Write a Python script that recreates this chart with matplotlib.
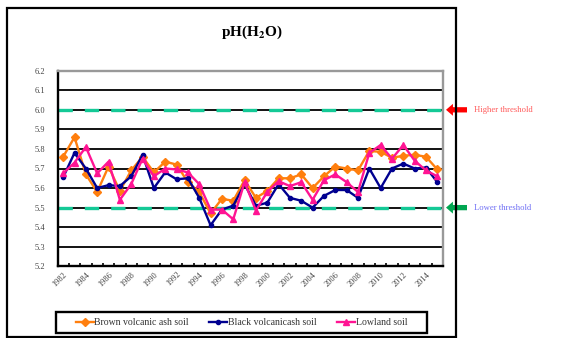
import matplotlib
matplotlib.use("Agg")
import matplotlib.pyplot as plt
import matplotlib.transforms as mtransforms
from matplotlib.patches import Rectangle
from matplotlib.ticker import FixedLocator

plt.rcParams['font.family'] = ['Liberation Serif', 'DejaVu Serif']
plt.rcParams['mathtext.fontset'] = 'stix'

years = list(range(1982, 2016))
brown = [5.76, 5.86, 5.67, 5.58, 5.71, 5.585, 5.69, 5.76, 5.68, 5.735, 5.72, 5.63,
         5.58, 5.47, 5.545, 5.535, 5.64, 5.55, 5.585, 5.65, 5.65, 5.67, 5.60, 5.66,
         5.71, 5.70, 5.69, 5.79, 5.785, 5.755, 5.765, 5.77, 5.76, 5.695]
black = [5.655, 5.78, 5.70, 5.60, 5.615, 5.61, 5.66, 5.77, 5.60, 5.68, 5.645, 5.65,
         5.55, 5.41, 5.49, 5.51, 5.62, 5.51, 5.525, 5.62, 5.55, 5.535, 5.50, 5.56,
         5.59, 5.59, 5.55, 5.70, 5.60, 5.70, 5.725, 5.70, 5.705, 5.63]
lowland = [5.675, 5.73, 5.81, 5.675, 5.735, 5.54, 5.62, 5.75, 5.66, 5.70, 5.695, 5.68,
           5.62, 5.49, 5.49, 5.44, 5.63, 5.485, 5.58, 5.635, 5.61, 5.63, 5.54, 5.64,
           5.67, 5.63, 5.58, 5.78, 5.82, 5.75, 5.82, 5.74, 5.69, 5.66]
series_names = ["Brown volcanic ash soil", "Black volcanicash soil", "Lowland soil"]
thresholds = [6.0, 5.5]
threshold_labels = ["Higher threshold", "Lower threshold"]
yticks = [5.2, 5.3, 5.4, 5.5, 5.6, 5.7, 5.8, 5.9, 6.0, 6.1, 6.2]

W, H = 569, 338
fig = plt.figure(figsize=(W / 100, H / 100), dpi=100)
fig.patch.set_facecolor('white')

# outer frame
fig.patches.append(Rectangle((6.5 / W, 1 - 337 / H), (455.5 - 6.5) / W, (337 - 8.3) / H,
                             transform=fig.transFigure, fill=False, edgecolor='black',
                             linewidth=1.6))

L, R, T, B = 57.5, 443.0, 70.7, 266.3
ax = fig.add_axes([L / W, 1 - B / H, (R - L) / W, (B - T) / H])
x = list(range(len(years)))

for yv in yticks[1:-1]:
    ax.axhline(yv, color='black', lw=1.3, zorder=1)

for t in thresholds:
    ax.axhline(t, color='#14C996', lw=2.4, dashes=(4.3, 3.6), zorder=2)

ax.plot(x, brown, color='#FF7F0E', lw=1.7, marker='D', ms=3.8, label=series_names[0], zorder=3)
ax.plot(x, black, color='#000090', lw=1.7, marker='o', ms=3.0, label=series_names[1], zorder=4)
ax.plot(x, lowland, color='#FF1493', lw=1.7, marker='^', ms=4.6, label=series_names[2], zorder=5)

ax.set_xlim(-0.5, len(years) - 0.5)
ax.set_ylim(5.2, 6.2)
ax.set_yticks(yticks)
ax.set_yticklabels([f"{v:.1f}" for v in yticks], fontsize=6, color='#444444')
ax.set_xticks(x[::2])
ax.set_xticklabels([str(y) for y in years[::2]], rotation=45, ha='right', va='top',
                   fontsize=6, color='#444444', rotation_mode='anchor')
ax.xaxis.set_minor_locator(FixedLocator([i - 0.5 for i in range(len(years) + 1)]))
ax.tick_params(axis='y', length=0, pad=9)
ax.tick_params(axis='x', which='major', length=0, pad=3)
ax.tick_params(axis='x', which='minor', length=2.2, width=1.2, direction='in', color='black')

for s in ['left', 'bottom']:
    ax.spines[s].set_color('black')
    ax.spines[s].set_linewidth(1.7)
for s in ['top', 'right']:
    ax.spines[s].set_color('#999999')
    ax.spines[s].set_linewidth(1.7)

fig.text(252 / W, 1 - 32 / H, 'pH(H$_{\\mathbf{2}}$O)', fontsize=11, fontweight='bold',
         ha='center', va='center')

# threshold arrows and labels
trans = mtransforms.blended_transform_factory(ax.transAxes, ax.transData)
arrow_colors = ['#FF0000', '#00A651']
text_colors = ['#FF5A5A', '#6E6EF5']
x_tip = (446 - L) / (R - L)
x_tail = (467 - L) / (R - L)
x_txt = (474 - L) / (R - L)
for t, lab, ac, tc in zip(thresholds, threshold_labels, arrow_colors, text_colors):
    ax.annotate('', xy=(x_tip, t), xycoords=trans, xytext=(x_tail, t), textcoords=trans,
                arrowprops=dict(arrowstyle='simple,head_length=0.5,head_width=0.86,tail_width=0.38',
                                color=ac, lw=0, shrinkA=0, shrinkB=0, mutation_scale=10),
                annotation_clip=False)
    ax.text(x_txt, t, lab, transform=trans, fontsize=6.2, color=tc, va='center', ha='left',
            clip_on=False)

# legend
fig.patches.append(Rectangle((56 / W, 1 - 333 / H), (427 - 56) / W, (333 - 312) / H,
                             transform=fig.transFigure, fill=False, edgecolor='black',
                             linewidth=1.7))
leg = fig.legend(loc='center', bbox_to_anchor=(241.5 / W, 1 - 322.5 / H),
                 ncol=3, fontsize=7, frameon=False,
                 handlelength=1.85, handletextpad=0.05, borderaxespad=0, borderpad=0,
                 columnspacing=2.1)
for txt in leg.get_texts():
    txt.set_color('#333333')

fig.savefig('out.png', dpi=100)
